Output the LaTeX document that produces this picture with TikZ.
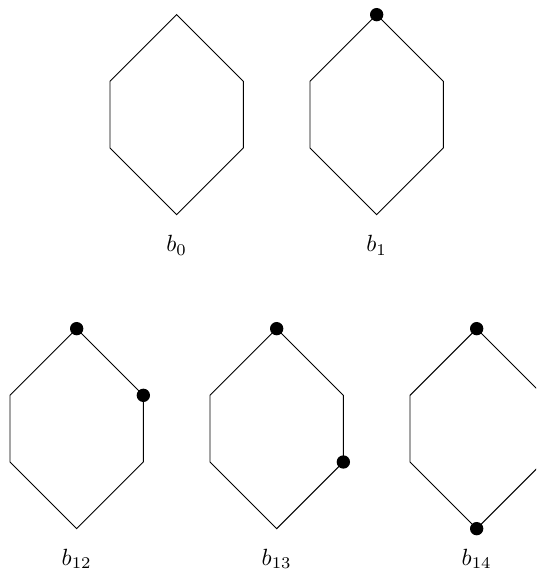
\documentclass[tikz,border=0pt]{standalone}
\usepackage{tikz}
\usetikzlibrary{positioning}
\tikzset{vertex/.style={circle,fill=black,inner sep=0pt,minimum size=0.2cm}}

\begin{document}
\begin{tikzpicture}
    \clip (0,0) rectangle (8.04,8.61);

    % Hexagons
    \foreach \n/\x/\y in {h0/2.65/6.89, h1/5.65/6.89, h12/1.15/2.18, h13/4.15/2.18, h14/7.15/2.18} {
        \coordinate (\n-t) at (\x,\y+1.5);
        \coordinate (\n-ur) at (\x+1,\y+0.5);
        \coordinate (\n-lr) at (\x+1,\y-0.5);
        \coordinate (\n-b) at (\x,\y-1.5);
        \coordinate (\n-ll) at (\x-1,\y-0.5);
        \coordinate (\n-ul) at (\x-1,\y+0.5);
        \draw (\n-t) -- (\n-ur) -- (\n-lr) -- (\n-b) -- (\n-ll) -- (\n-ul) -- cycle;
    }

    % Labels
    \node (l0) at (2.65,4.93) {$b_0$};
    \node (l1) at (5.65,4.93) {$b_1$};
    \node (l12) at (1.15,0.23) {$b_{12}$};
    \node (l13) at (4.15,0.23) {$b_{13}$};
    \node (l14) at (7.15,0.23) {$b_{14}$};

    % Marked vertices
    \node[vertex] (d1) at (h1-t) {};
    \node[vertex] (d12a) at (h12-t) {};
    \node[vertex] (d12b) at (h12-ur) {};
    \node[vertex] (d13a) at (h13-t) {};
    \node[vertex] (d13b) at (h13-lr) {};
    \node[vertex] (d14a) at (h14-t) {};
    \node[vertex] (d14b) at (h14-b) {};
\end{tikzpicture}
\end{document}
